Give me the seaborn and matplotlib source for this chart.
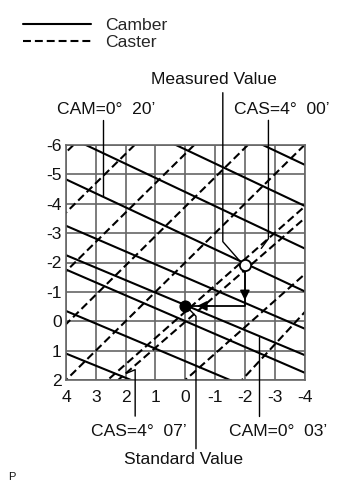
import numpy as np
import pandas as pd
import matplotlib
matplotlib.use('Agg')
import matplotlib.pyplot as plt
import seaborn as sns

# camber lines (solid): y where each line meets x=4 and x=-4
camber_y_left = [-9.17, -7.77, -6.32, -4.83, -3.25, -2.25, -1.76, -0.35, 1.1]
camber_y_right = [-5.33, -3.93, -2.48, -1.02, 0.25, 1.15, 1.75, 3.07, 4.4]

# caster lines (dashed): x where each line meets y=-6 and y=2
caster_x_top = [3.75, 1.7, -0.3, -2.1, -4.0, -6.35, -6.84, -8.9, -9.2]
caster_x_bottom = [11.75, 9.7, 7.7, 5.9, 4.0, 2.6, 2.25, 0.0, -1.9]

measured = (-2.0, -1.9)
standard = (0.0, -0.52)

x_ticks = [4, 3, 2, 1, 0, -1, -2, -3, -4]
y_ticks = [-6, -5, -4, -3, -2, -1, 0, 1, 2]

# leader lines for the labels (data coords)
leader_cam20 = ([2.75, 2.75], [-6.84, -4.27])
leader_measured = ([-1.26, -1.26, -1.84], [-7.78, -2.71, -2.04])
leader_cas00 = ([-2.79, -2.79, -2.55], [-6.84, -2.81, -2.48])
leader_cas07 = ([1.97, 1.68, 1.68], [1.77, 1.65, 3.23])
leader_cam03 = ([-2.49, -2.49], [0.54, 3.23])
leader_standard = ([-0.12, -0.36, -0.36], [-0.42, -0.17, 4.34])

rows = []
for i, (yl, yr) in enumerate(zip(camber_y_left, camber_y_right)):
    rows.append(('cam%d' % i, 'Camber', 4, yl))
    rows.append(('cam%d' % i, 'Camber', -4, yr))
for i, (xt, xb) in enumerate(zip(caster_x_top, caster_x_bottom)):
    rows.append(('cas%d' % i, 'Caster', xt, -6))
    rows.append(('cas%d' % i, 'Caster', xb, 2))
df = pd.DataFrame(rows, columns=['line', 'kind', 'x', 'y'])

sns.set_theme(style='white')
plt.rcParams['font.family'] = ['Liberation Sans', 'DejaVu Sans']

W, H = 355, 482
fig = plt.figure(figsize=(W / 100, H / 100), dpi=100)
ax = fig.add_axes([66 / W, 1 - 380 / H, (304.5 - 66) / W, (380 - 145) / H])

sns.lineplot(data=df, x='x', y='y', units='line', style='kind', estimator=None,
             sort=False, color='black', linewidth=1.5,
             dashes={'Camber': '', 'Caster': (3.8, 1.9)}, ax=ax)
handles, labels = ax.get_legend_handles_labels()
ax.get_legend().remove()

ax.set_xlim(4, -4)
ax.set_ylim(2, -6)
ax.set_xticks(x_ticks)
ax.set_yticks(y_ticks)
ax.set_xticklabels([str(t) for t in x_ticks])
ax.set_yticklabels([str(t) for t in y_ticks])
ax.grid(True, color='#666666', linewidth=1.2)
ax.set_axisbelow(True)
for s in ax.spines.values():
    s.set_color('#666666')
    s.set_linewidth(1.2)
fs = 12.6
ax.tick_params(axis='both', length=0, labelsize=fs, colors='#111111')
ax.tick_params(axis='y', pad=3)
ax.tick_params(axis='x', pad=7)
ax.set_xlabel('')
ax.set_ylabel('')

# leader lines
for lx, ly in [leader_cam20, leader_measured, leader_cas00,
               leader_cas07, leader_cam03, leader_standard]:
    ax.plot(lx, ly, color='black', linewidth=1.0, clip_on=False, zorder=4)

# route from measured to standard
corner = (measured[0], standard[1])
ax.plot([measured[0], corner[0], standard[0]], [measured[1], corner[1], standard[1]],
        color='black', linewidth=1.3, zorder=5)
ax.annotate('', xy=(corner[0], corner[1] - 0.1), xytext=(corner[0], corner[1] - 0.6),
            arrowprops=dict(arrowstyle='-|>', color='black', lw=1.3, mutation_scale=14),
            zorder=6)
ax.annotate('', xy=(standard[0] - 0.3, standard[1]), xytext=(standard[0] - 0.9, standard[1]),
            arrowprops=dict(arrowstyle='-|>', color='black', lw=1.3, mutation_scale=14),
            zorder=6)
ax.scatter([measured[0]], [measured[1]], s=65, facecolor='white', edgecolor='black',
           linewidth=1.3, zorder=7)
ax.scatter([standard[0]], [standard[1]], s=60, color='black', zorder=7)


# labels
def ftext(px, py, s, **kw):
    fig.text(px / W, 1 - py / H, s, fontsize=kw.pop('size', fs), color='#111111',
             va='center', **kw)


ftext(214, 80, 'Measured Value', ha='center')
ftext(57, 110, 'CAM=0°  20’', ha='left')
ftext(234, 110, 'CAS=4°  00’', ha='left')
ftext(91, 431, 'CAS=4°  07’', ha='left')
ftext(229, 431, 'CAM=0°  03’', ha='left')
ftext(184, 460, 'Standard Value', ha='center')
ftext(8, 477, 'P', ha='left', size=8)

fig.legend(handles, labels, loc='upper left', bbox_to_anchor=(16 / W, 1 - 11 / H),
           frameon=False, fontsize=fs, handlelength=3.9, handletextpad=0.8,
           labelspacing=0.1, borderaxespad=0)

fig.savefig('out.png', dpi=100)
